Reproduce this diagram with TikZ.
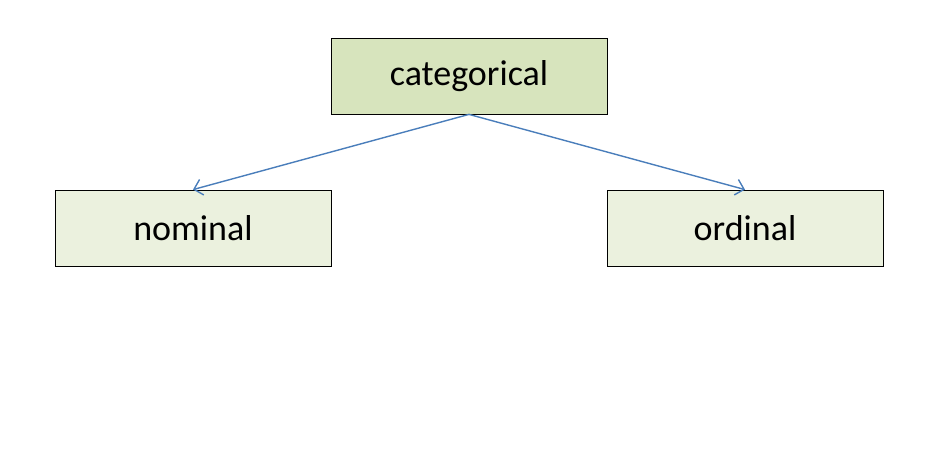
\documentclass[tikz,border=0pt]{standalone}
\usepackage{fontspec}
\setmainfont{Carlito}
\usetikzlibrary{arrows.meta}
\definecolor{topfill}{HTML}{D7E4BD}
\definecolor{botfill}{HTML}{EBF1DE}
\definecolor{arr}{HTML}{4A7EBB}
\begin{document}
\begin{tikzpicture}[x=1pt,y=1pt,
  box/.style={draw=black,line width=0.8pt,minimum width=276pt,minimum height=76pt,inner sep=0pt,font=\fontsize{36}{42}\selectfont},
  conn/.style={draw=arr,line width=1.4pt,-{Straight Barb[length=8pt,width=16pt]}}]
\useasboundingbox (0,0) rectangle (939,459);
\node[box,fill=topfill] (c) at (469,383) {categorical};
\node[box,fill=botfill] (n) at (193,231) {nominal};
\node[box,fill=botfill] (o) at (745,231) {ordinal};
\draw[conn] (c.south) -- (n.north);
\draw[conn] (c.south) -- (o.north);
\end{tikzpicture}
\end{document}
